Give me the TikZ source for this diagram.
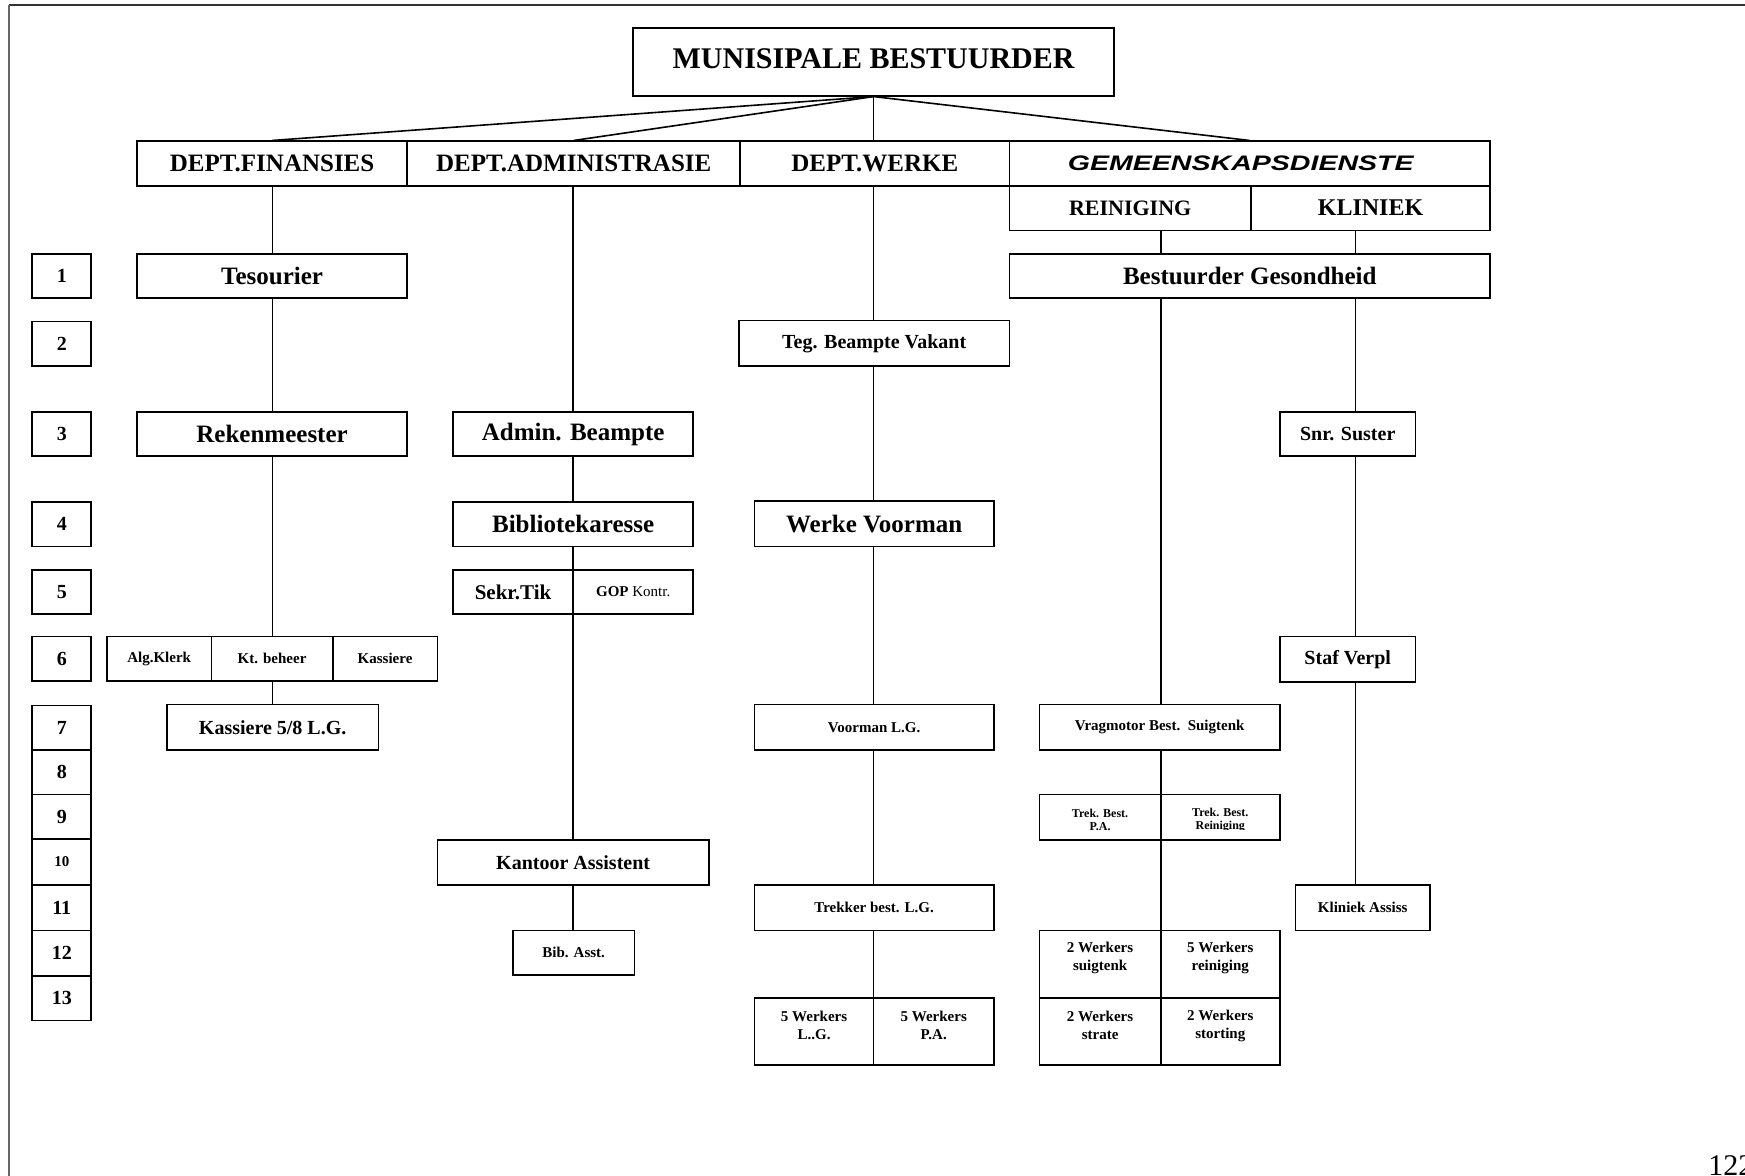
\documentclass[tikz,border=0pt]{standalone}
\usepackage{fontspec}
\setmainfont{Liberation Serif}
\newfontfamily\gemfont{Liberation Sans}
\usepackage{graphicx}
\def\kf{1.1129}
\newcommand\bx[7][]{\node[box,#1,minimum width={(#5-#3)*\kf pt},minimum height={(#6-#4)*\kf pt}] (#2) at ({(#3+#5)/2},{(#4+#6)/2}) {#7};}
\tikzset{
  box/.style={draw, line width=1.7pt, inner sep=0pt, align=center},
  ln/.style={line width=1.6pt},
  fA/.style={font=\fontsize{30}{34}\selectfont\bfseries},
  fB/.style={font=\fontsize{25}{29}\selectfont\bfseries},
  fR/.style={font=\fontsize{22}{26}\selectfont\bfseries},
  fK/.style={font=\fontsize{24}{28}\selectfont\bfseries},
  fT/.style={font=\fontsize{21}{24}\selectfont\bfseries},
  fM/.style={font=\fontsize{20}{23}\selectfont\bfseries},
  fS/.style={font=\fontsize{15}{18}\selectfont\bfseries},
  fSn/.style={font=\fontsize{15}{18}\selectfont},
  fX/.style={font=\fontsize{12}{13.3}\selectfont\bfseries},
  fN/.style={font=\fontsize{20}{23}\selectfont\bfseries},
  fG/.style={font=\gemfont\fontsize{21}{24}\bfseries\itshape\selectfont},
  txt/.style={inner sep=0pt, align=center}
}
\begin{document}
\begin{tikzpicture}[x=1.1129pt,y=-1.1129pt]
\useasboundingbox (0,0) rectangle (1568,1056.7);
% page frame
\draw[black!80, line width=1.8pt] (7.8,4.2) -- (1570,4.2);
\draw[black!60, line width=2.2pt] (7.8,4.2) -- (7.8,1060);
% column coordinates
\coordinate (cf) at (245,0);
\coordinate (ca) at (515,0);
\coordinate (cw) at (785,0);
\coordinate (cr) at (1043,0);
\coordinate (ck) at (1218,0);
% top
\bx[fA]{mb}{569}{25}{1001}{86}{\raisebox{5.5pt}{MUNISIPALE BESTUURDER}}
\bx[fB]{fin}{123}{127}{366}{167}{DEPT.FINANSIES}
\bx[fB]{adm}{366}{127}{665}{167}{DEPT.ADMINISTRASIE}
\bx[fB]{wer}{665}{127}{907}{167}{DEPT.WERKE}
\bx[fG]{gem}{907}{127}{1339}{167}{\hspace*{-18pt}\scalebox{1.36}[1]{GEMEENSKAPSDIENSTE}}
\bx[fR]{rei}{907}{167}{1124}{207}{REINIGING}
\bx[fK]{kli}{1124}{167}{1339}{207}{KLINIEK}
\bx[fB]{bg}{907}{228}{1339}{268}{Bestuurder Gesondheid}
% levels
\bx[fN]{l1}{29}{228}{82}{268}{1}
\bx[fN]{l2}{29}{289}{82}{329}{2}
\bx[fN]{l3}{29}{370}{82}{410}{3}
\bx[fN]{l4}{29}{451}{82}{491}{4}
\bx[fN]{l5}{29}{512}{82}{552}{5}
\bx[fN]{l6}{29}{572}{82}{612}{6}
\bx[fN]{l7}{29}{634}{82}{674}{7}
\bx[fN]{l8}{29}{674}{82}{714}{8}
\bx[fN]{l9}{29}{714}{82}{754}{9}
\bx[fS]{l10}{29}{754}{82}{795}{10}
\bx[fN]{l11}{29}{795}{82}{836}{11}
\bx[fN]{l12}{29}{836}{82}{877}{12}
\bx[fN]{l13}{29}{877}{82}{917}{13}
% finance
\bx[fB]{tes}{123}{228}{366}{268}{Tesourier}
\bx[fB]{rek}{123}{370}{366}{410}{Rekenmeester}
\bx[fS]{alg}{96}{572}{190}{612}{Alg.Klerk}
\bx[fS]{ktb}{190}{572}{299}{612}{Kt. beheer}
\bx[fS]{kas}{299}{572}{393}{612}{Kassiere}
\bx[fM]{kas58}{150}{633}{340}{674}{Kassiere 5/8 L.G.}
% administration
\bx[fB]{ab}{407}{370}{623}{410}{Admin. Beampte}
\bx[fB]{bib}{407}{451}{623}{491}{Bibliotekaresse}
\bx[fT]{sek}{407}{512}{515}{552}{Sekr.Tik}
\bx[fSn]{gop}{515}{512}{623}{552}{\raisebox{2pt}{\textbf{GOP} Kontr.}}
\bx[fM]{ka}{393}{755}{637}{795}{Kantoor Assistent}
\bx[fS]{ba}{461}{836}{570}{876}{Bib. Asst.}
% works
\bx[fM]{teg}{664}{288}{907}{329}{Teg. Beampte Vakant}
\bx[fB]{wv}{678}{450}{893}{491}{Werke Voorman}
\bx[fS]{vlg}{678}{633}{893}{674}{Voorman L.G.}
\bx[fS]{tlg}{678}{795}{893}{836}{Trekker best. L.G.}
\bx{wa}{678}{897}{785}{957}{}
\bx{wb}{785}{897}{893}{957}{}
\node[txt,fS] (wat) at ([yshift=6pt]wa.center) {5 Werkers\\L..G.};
\node[txt,fS] (wbt) at ([yshift=6pt]wb.center) {5 Werkers\\P.A.};
% reiniging
\bx[fS]{vrag}{934}{633}{1150}{674}{Vragmotor Best.\ \ Suigtenk}
\bx{tra}{934}{714}{1043}{755}{}
\bx{trb}{1043}{714}{1150}{755}{}
\node[txt,fX] (trat) at ([yshift=-2.5pt]tra.center) {Trek. Best.\\P.A.};
\begin{scope}
\clip (1043,714) rectangle (1150,745.7);
\node[txt,fX] (trbt) at ([yshift=-2.5pt]trb.center) {Trek. Best.\\Reiniging};
\end{scope}
\bx{ga}{934}{836}{1043}{897}{}
\bx{gb}{1043}{836}{1150}{897}{}
\bx{gc}{934}{897}{1043}{957}{}
\bx{gd}{1043}{897}{1150}{957}{}
\node[txt,fS] (gat) at ([yshift=6pt]ga.center) {2 Werkers\\suigtenk};
\node[txt,fS] (gbt) at ([yshift=6pt]gb.center) {5 Werkers\\reiniging};
\node[txt,fS] (gct) at ([yshift=6pt]gc.center) {2 Werkers\\strate};
\node[txt,fS] (gdt) at ([yshift=6pt]gd.center) {2 Werkers\\storting};
% kliniek
\bx[fM]{snr}{1150}{370}{1272}{410}{Snr. Suster}
\bx[fM]{staf}{1150}{572}{1272}{613}{Staf Verpl}
\bx[fS]{kas2}{1164}{795}{1285}{836}{Kliniek Assiss}
% connectors
\draw[ln] (mb.south) -- (fin.north);
\draw[ln] (mb.south) -- (adm.north);
\draw[ln] (mb.south) -- (wer.north -| mb.south);
\draw[ln] (mb.south) -- (gem.north);
\draw[ln] (fin.south -| cf) -- (tes.north -| cf);
\draw[ln] (tes.south -| cf) -- (rek.north -| cf);
\draw[ln] (rek.south -| cf) -- (ktb.north -| cf);
\draw[ln] (ktb.south -| cf) -- (kas58.north -| cf);
\draw[ln] (adm.south -| ca) -- (ab.north -| ca);
\draw[ln] (ab.south -| ca) -- (bib.north -| ca);
\draw[ln] (bib.south -| ca) -- (sek.north -| ca);
\draw[ln] (sek.south -| ca) -- (ka.north -| ca);
\draw[ln] (ka.south -| ca) -- (ba.north -| ca);
\draw[ln] (wer.south -| cw) -- (teg.north -| cw);
\draw[ln] (teg.south -| cw) -- (wv.north -| cw);
\draw[ln] (wv.south -| cw) -- (vlg.north -| cw);
\draw[ln] (vlg.south -| cw) -- (tlg.north -| cw);
\draw[ln] (tlg.south -| cw) -- (wa.north -| cw);
\draw[ln] (rei.south -| cr) -- (bg.north -| cr);
\draw[ln] (bg.south -| cr) -- (vrag.north -| cr);
\draw[ln] (vrag.south -| cr) -- (tra.north -| cr);
\draw[ln] (tra.south -| cr) -- (ga.north -| cr);
\draw[ln] (kli.south -| ck) -- (bg.north -| ck);
\draw[ln] (bg.south -| ck) -- (snr.north -| ck);
\draw[ln] (snr.south -| ck) -- (staf.north -| ck);
\draw[ln] (staf.south -| ck) -- (kas2.north -| ck);
% page number
\node[anchor=base west, inner sep=0pt, font=\fontsize{30}{34}\selectfont] (pg) at (1535,1056) {122};
\end{tikzpicture}
\end{document}
